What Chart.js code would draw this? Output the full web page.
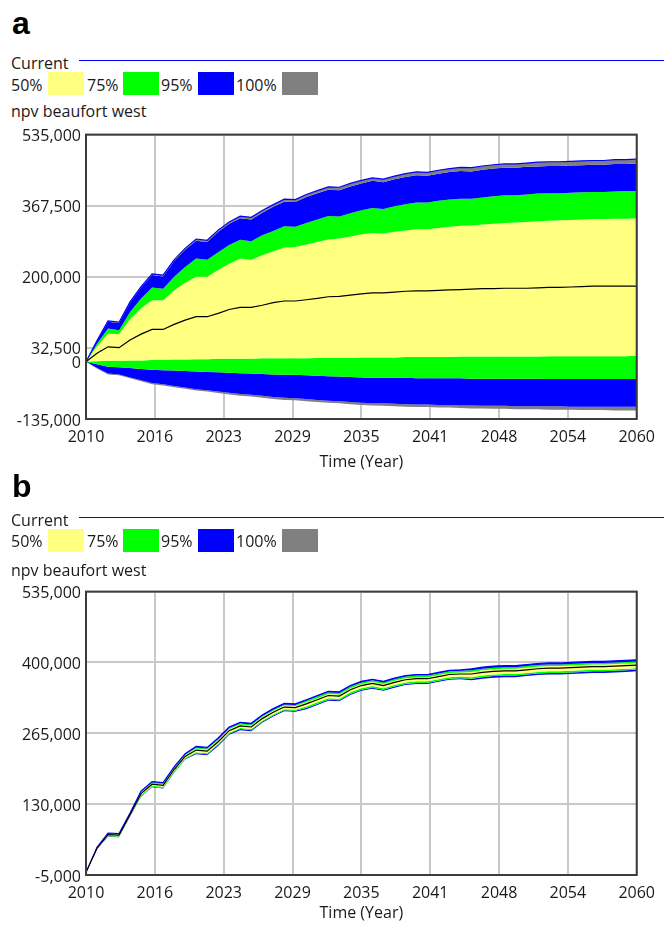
<!DOCTYPE html>
<html>
<head>
<meta charset="utf-8">
<script src="https://cdn.jsdelivr.net/npm/chart.js@4"></script>
<style>
  body { margin: 0; background: #fff; width: 664px; height: 927px; position: relative; overflow: hidden;
         font-family: 'Open Sans', sans-serif; font-size: 16px; color: #1a1a1a; }
  .t { position: absolute; line-height: 16px; white-space: nowrap; }
  .tag { position: absolute; font-family: 'Liberation Sans', Arial, sans-serif; font-weight: bold;
         font-size: 32px; line-height: 32px; color: #000; }
  .box { position: absolute; width: 36px; height: 23px; }
  .cur { position: absolute; left: 79px; width: 585px; height: 1px; background: #0000ff; }
  canvas { position: absolute; left: 0; }
</style>
</head>
<body>
<div class="tag" style="left:12px;top:7px">a</div>
<div class="t" style="left:11px;top:55px">Current</div>
<div class="cur" style="top:60px"></div>
<div class="t" style="left:11px;top:77px">50%</div>
<div class="box" style="left:48px;top:72px;background:#ffff80"></div>
<div class="t" style="left:87px;top:77px">75%</div>
<div class="box" style="left:123px;top:72px;background:#00ff00"></div>
<div class="t" style="left:161px;top:77px">95%</div>
<div class="box" style="left:198px;top:72px;background:#0000ff"></div>
<div class="t" style="left:236px;top:77px">100%</div>
<div class="box" style="left:282px;top:72px;background:#808080"></div>
<div class="t" style="left:11px;top:103px">npv beaufort west</div>
<canvas id="chartA" width="664" height="356" style="top:120px"></canvas>

<div class="tag" style="left:12px;top:470px">b</div>
<div class="t" style="left:11px;top:512px">Current</div>
<div class="cur" style="top:517px"></div>
<div class="t" style="left:11px;top:533px">50%</div>
<div class="box" style="left:48px;top:529px;background:#ffff80"></div>
<div class="t" style="left:87px;top:533px">75%</div>
<div class="box" style="left:123px;top:529px;background:#00ff00"></div>
<div class="t" style="left:161px;top:533px">95%</div>
<div class="box" style="left:198px;top:529px;background:#0000ff"></div>
<div class="t" style="left:236px;top:533px">100%</div>
<div class="box" style="left:282px;top:529px;background:#808080"></div>
<div class="t" style="left:11px;top:562px">npv beaufort west</div>
<canvas id="chartB" width="664" height="350" style="top:577px"></canvas>

<script>
// time axis
const years = [2010,2011,2012,2013,2014,2015,2016,2017,2018,2019,
               2020,2021,2022,2023,2024,2025,2026,2027,2028,2029,
               2030,2031,2032,2033,2034,2035,2036,2037,2038,2039,
               2040,2041,2042,2043,2044,2045,2046,2047,2048,2049,
               2050,2051,2052,2053,2054,2055,2056,2057,2058,2059,2060];
const xTickLabels = ['2010','2016','2023','2029','2035','2041','2048','2054','2060'];

// panel a, values in thousands
const yTicksA = [-135, 0, 32.5, 200, 367.5, 535];
const maxA  = [0,50,96,93,141,177,207,204,240,267, 289,286,310,329,343,340,356,370,383,382,
               394,403,412,411,420,427,433,430,437,443, 447,446,451,455,458,457,461,464,466,466,
               468,470,471,471,472,473,474,474,476,476, 477];
const hi95A = [0,49,94,91,139,175,204,201,237,264, 285,282,306,325,338,335,351,365,377,376,
               388,397,405,404,413,420,426,423,430,435, 439,438,443,447,449,448,452,455,457,457,
               459,460,461,461,462,463,464,464,466,466, 467];
const hi75A = [0,42,78,74,117,149,175,172,200,223, 243,240,258,275,287,284,298,308,319,318,
               327,335,343,342,350,357,362,360,366,371, 375,375,379,382,384,384,387,390,392,392,
               394,396,397,397,398,399,400,400,401,402, 402];
const hi50A = [0,36,66,65,100,126,145,145,168,186, 200,200,216,231,243,240,251,260,269,270,
               276,282,288,290,295,300,303,302,306,309, 312,312,315,318,320,321,323,325,327,328,
               329,331,332,333,334,335,336,336,337,337, 338];
const medA  = [0,20,35,33,51,65,76,76,88,98, 106,106,114,123,128,128,133,139,143,143,
               146,149,153,154,157,160,162,162,164,166, 167,167,168,169,170,171,172,172,173,173,
               173,174,175,175,176,177,178,178,178,178, 178];
const lo50A = [0,1,2,2,3,3,4,4,5,5, 6,6,7,7,7,7,8,8,8,8,
               8,9,9,9,9,10,10,10,10,11, 11,11,11,11,12,12,12,12,12,12,
               12,12,13,13,13,13,13,13,13,13, 14];
const lo75A = [0,-6,-12,-13,-15,-17,-19,-20,-21,-22, -23,-24,-25,-26,-27,-28,-29,-30,-31,-31,
               -32,-33,-34,-35,-36,-37,-38,-38,-38,-38, -39,-39,-39,-39,-39,-40,-40,-40,-40,-40,
               -40,-40,-41,-41,-41,-41,-41,-41,-41,-41, -41];
const lo95A = [0,-15,-28,-30,-37,-44,-50,-53,-57,-61, -65,-67,-70,-73,-76,-78,-80,-83,-85,-86,
               -88,-90,-92,-93,-95,-97,-98,-98,-99,-100, -101,-101,-102,-102,-103,-103,-104,-104,-104,-105,
               -105,-105,-105,-105,-106,-106,-106,-106,-106,-106, -106];
const minA  = [0,-16,-30,-32,-39,-46,-53,-56,-60,-64, -68,-70,-74,-77,-80,-82,-85,-88,-90,-91,
               -93,-95,-97,-98,-100,-102,-103,-104,-105,-106, -107,-107,-108,-108,-109,-110,-110,-111,-111,-112,
               -112,-112,-113,-113,-113,-114,-114,-114,-115,-115, -115];

// panel b, values in thousands
const yTicksB = [-5, 130, 265, 400, 535];
const hi95B = [0,48,75,74,113,155,173,171,201,226, 240,238,256,277,286,284,300,312,322,321,
               329,337,345,344,356,364,368,364,370,375, 377,377,381,385,386,388,391,393,394,394,
               396,398,399,399,400,401,402,402,403,404, 405];
const hi75B = [0,47,74,73,112,154,172,170,200,225, 238,236,254,275,284,282,298,310,320,319,
               327,335,343,342,354,362,366,362,368,373, 375,375,379,383,384,385,388,390,391,391,
               393,395,396,396,397,398,399,399,400,401, 402];
const hi50B = [0,47,73,72,111,152,170,168,198,223, 236,234,252,273,282,280,296,308,318,317,
               324,332,340,339,351,359,363,359,365,370, 372,372,376,380,381,382,385,387,388,388,
               390,392,393,393,394,395,396,396,397,398, 399];
const medB  = [0,46,72,71,110,150,168,166,196,221, 233,231,249,270,279,277,293,305,315,314,
               321,329,337,336,348,356,360,356,362,367, 369,369,373,377,378,378,381,383,384,384,
               386,388,389,389,390,391,392,392,393,394, 395];
const lo50B = [0,45,70,69,108,147,165,163,193,218, 229,227,245,266,275,273,289,301,311,310,
               316,324,332,331,343,351,355,351,357,362, 364,364,368,372,373,372,375,377,378,378,
               380,382,383,383,384,385,386,386,387,388, 389];
const lo75B = [0,45,69,68,107,145,163,161,191,216, 227,225,243,264,273,271,287,299,309,308,
               313,321,329,328,340,348,352,348,354,359, 361,361,365,369,370,369,372,374,375,375,
               377,379,380,380,381,382,383,383,384,385, 386];
const lo95B = [0,44,68,67,106,144,162,160,190,215, 225,223,241,262,271,269,285,297,307,306,
               311,319,327,326,338,346,350,346,352,357, 359,359,363,367,368,366,369,371,372,372,
               374,376,377,377,378,379,380,380,381,382, 383];

const GRAY = '#808080', BLUE = '#0000ff', GREEN = '#00ff00', YELLOW = '#ffff80';
const TXT = '#1a1a1a';

Chart.defaults.font.family = "'Open Sans', sans-serif";
Chart.defaults.font.size = 16;
Chart.defaults.color = TXT;

function fmt(v) {
  return String(Math.round(v * 1000)).replace(/\B(?=(\d{3})+(?!\d))/g, ',');
}
const pts = arr => years.map((yr, i) => ({ x: yr, y: arr[i] }));

const frame = {
  id: 'frame',
  afterDraw(chart) {
    const a = chart.chartArea, ctx = chart.ctx;
    ctx.save();
    ctx.strokeStyle = '#3c3c3c';
    ctx.lineWidth = 2;
    ctx.strokeRect(a.left, a.top, a.right - a.left, a.bottom - a.top);
    ctx.restore();
  }
};

function makePanel(id, bounds, current, median, yMin, yMax, yTicks, xHeight) {
  const colors = [GRAY, BLUE, GREEN, YELLOW, GREEN, BLUE, GRAY, null];
  const bandSets = bounds.map((arr, i) => ({
    data: pts(arr),
    borderColor: 'rgba(0,0,0,0)',
    borderWidth: 0,
    backgroundColor: colors[i] || 'rgba(0,0,0,0)',
    fill: colors[i] ? '+1' : false,
    pointRadius: 0,
    tension: 0
  }));
  new Chart(document.getElementById(id), {
    type: 'line',
    data: {
      datasets: [
        { data: pts(median), borderColor: '#000', borderWidth: 1.2, fill: false, pointRadius: 0, tension: 0 },
        { data: pts(current), borderColor: BLUE, borderWidth: 1.2, fill: false, pointRadius: 0, tension: 0 },
        ...bandSets
      ]
    },
    options: {
      responsive: false,
      animation: false,
      layout: { padding: { top: 14, right: 22, bottom: 2, left: 0 } },
      plugins: { legend: { display: false }, tooltip: { enabled: false } },
      scales: {
        x: {
          type: 'linear', min: 2010, max: 2060, z: 1,
          afterFit: s => { s.height = xHeight; },
          ticks: { stepSize: 6.25, autoSkip: false, maxRotation: 0, padding: 9,
                   callback: (v, i) => xTickLabels[i] },
          grid: { color: '#c8c8c8', lineWidth: 2, drawTicks: false },
          border: { display: false },
          title: { display: true, text: 'Time (Year)', padding: { top: 0, bottom: 2 } }
        },
        y: {
          min: yMin, max: yMax, z: 1,
          afterFit: s => { s.width = 86; },
          afterBuildTicks: s => { s.ticks = yTicks.map(v => ({ value: v })); },
          ticks: { padding: 5, labelOffset: 2, callback: v => fmt(v) },
          grid: { color: '#c8c8c8', lineWidth: 2, drawTicks: false },
          border: { display: false }
        }
      }
    },
    plugins: [frame]
  });
}

makePanel('chartA', [maxA, hi95A, hi75A, hi50A, lo50A, lo75A, lo95A, minA],
          maxA, medA, -135, 535, yTicksA, 55);
makePanel('chartB', [hi95B, hi95B, hi75B, hi50B, lo50B, lo75B, lo95B, lo95B],
          hi95B, medB, -5, 535, yTicksB, 50);
</script>
</body>
</html>
